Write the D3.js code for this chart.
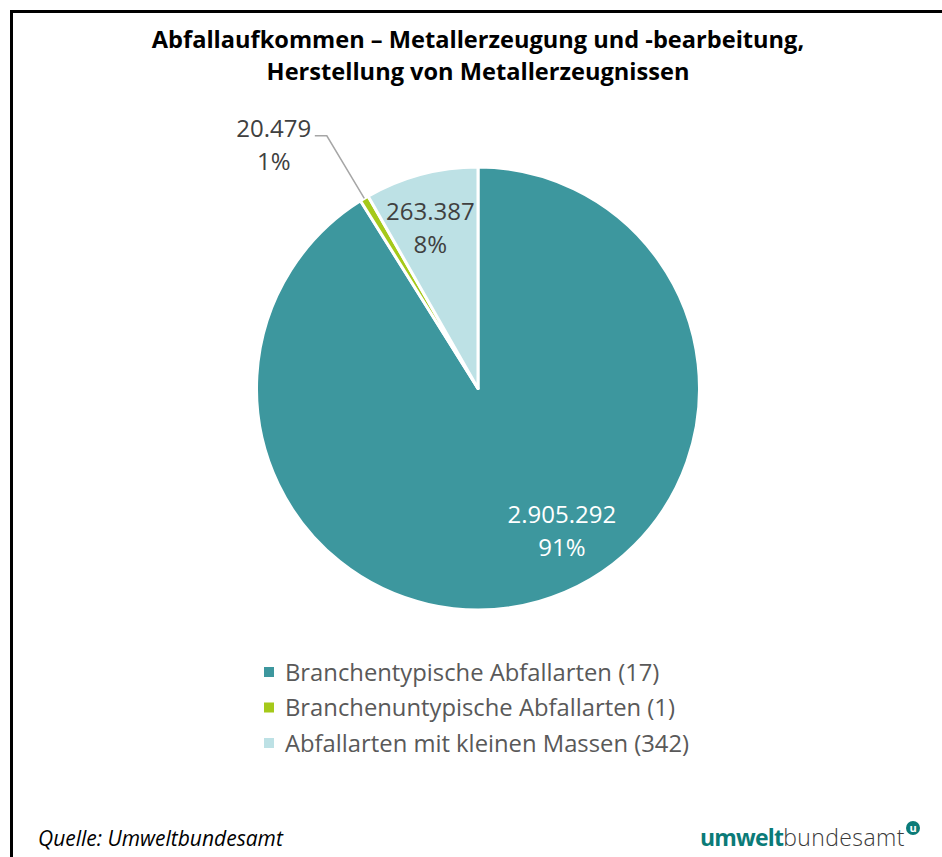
<!DOCTYPE html>
<html>
<head>
<meta charset="utf-8">
<script src="https://cdn.jsdelivr.net/npm/d3@7"></script>
<style>
  html, body { margin: 0; padding: 0; background: #fff; }
  svg { display: block; font-family: "Open Sans", sans-serif; }
</style>
</head>
<body>
<svg id="chart" width="942" height="857"></svg>
<script>
  // chart data
  const categories = [
    'Branchentypische Abfallarten (17)',
    'Branchenuntypische Abfallarten (1)',
    'Abfallarten mit kleinen Massen (342)'
  ];
  const values = [2905292, 20479, 263387];
  const colors = ['#3d979e', '#a5c91a', '#bde1e5'];
  const titleLines = [
    'Abfallaufkommen – Metallerzeugung und -bearbeitung,',
    'Herstellung von Metallerzeugnissen'
  ];

  const width = 942;
  const height = 857;
  const cx = 478;
  const cy = 388.5;
  const radius = 221.5;

  const de = d3.formatLocale({ decimal: ',', thousands: '.', grouping: [3], currency: ['', ' €'] });
  const fmtNum = de.format(',d');
  const fmtPct = d3.format('.0%');

  const svg = d3.select('#chart');

  // frame (top + left only)
  svg.append('path')
    .attr('d', `M11.5,${height} V11.5 H${width}`)
    .attr('fill', 'none')
    .attr('stroke', '#000')
    .attr('stroke-width', 3);

  // title
  svg.append('text')
    .attr('x', cx)
    .attr('text-anchor', 'middle')
    .attr('font-weight', 700)
    .attr('font-size', 23.6)
    .attr('fill', '#000')
    .selectAll('tspan')
    .data(titleLines)
    .join('tspan')
    .attr('x', cx)
    .attr('y', (d, i) => 48 + i * 32)
    .text(d => d);

  const data = categories.map((c, i) => ({ category: c, value: values[i], color: colors[i] }));
  const total = d3.sum(values);

  const pie = d3.pie().value(d => d.value).sort(null);
  const arc = d3.arc().innerRadius(0).outerRadius(radius);
  const labelArc = d3.arc().innerRadius(radius * 0.75).outerRadius(radius * 0.75);
  const arcs = pie(data);

  const g = svg.append('g').attr('transform', `translate(${cx},${cy})`);

  g.selectAll('path.slice')
    .data(arcs)
    .join('path')
    .attr('class', 'slice')
    .attr('d', arc)
    .attr('fill', d => d.data.color)
    .attr('stroke', '#fff')
    .attr('stroke-width', 3)
    .attr('stroke-linejoin', 'round');

  // label placement: inside for big slices, outside with leader for tiny ones
  const labelShift = [[38, -17], null, [-5, 0]];
  const labelFill = ['#fff', '#404040', '#404040'];

  arcs.forEach((d, i) => {
    const share = d.value / total;
    let x, y;
    if (share > 0.05) {
      [x, y] = labelArc.centroid(d);
      x += labelShift[i][0];
      y += labelShift[i][1];
    } else {
      const mid = (d.startAngle + d.endAngle) / 2;
      const ex = Math.sin(mid) * radius;
      const ey = -Math.cos(mid) * radius;
      const kx = Math.sin(mid) * (radius + 73);
      const ky = -Math.cos(mid) * (radius + 73);
      g.append('polyline')
        .attr('points', [[ex, ey], [kx, ky], [kx - 12, ky]].map(p => p.join(',')).join(' '))
        .attr('fill', 'none')
        .attr('stroke', '#a6a6a6')
        .attr('stroke-width', 1.5);
      x = kx - 53;
      y = ky + 9;
    }
    const t = g.append('text')
      .attr('text-anchor', 'middle')
      .attr('font-size', 24)
      .attr('fill', labelFill[i]);
    t.append('tspan').attr('x', x).attr('y', y - 8).text(fmtNum(d.value));
    t.append('tspan').attr('x', x).attr('y', y + 25).text(fmtPct(share));
  });

  // legend
  const legend = svg.append('g').attr('transform', 'translate(264,672)');
  const rows = legend.selectAll('g')
    .data(data)
    .join('g')
    .attr('transform', (d, i) => `translate(0,${i * 35.5})`);
  rows.append('rect')
    .attr('x', 0).attr('y', -5)
    .attr('width', 10).attr('height', 10)
    .attr('fill', d => d.color);
  rows.append('text')
    .attr('x', 21)
    .attr('y', 8.5)
    .attr('font-size', 23.8)
    .attr('fill', '#595959')
    .text(d => d.category);

  // source
  svg.append('text')
    .attr('x', 38)
    .attr('y', 846)
    .attr('font-size', 21)
    .attr('font-style', 'italic')
    .attr('fill', '#000')
    .text('Quelle: Umweltbundesamt');

  // logo
  const logo = svg.append('text')
    .attr('x', 700)
    .attr('y', 846)
    .attr('font-size', 23);
  logo.append('tspan').attr('font-weight', 700).attr('fill', '#0b7b78').attr('letter-spacing', -0.8).text('umwelt');
  logo.append('tspan').attr('font-weight', 300).attr('fill', '#3a3a3a').attr('letter-spacing', 0.4).text('bundesamt');
  svg.append('circle').attr('cx', 913).attr('cy', 828).attr('r', 7).attr('fill', '#0b7b78');
  svg.append('text')
    .attr('x', 913).attr('y', 832)
    .attr('text-anchor', 'middle')
    .attr('font-size', 11)
    .attr('font-weight', 700)
    .attr('fill', '#fff')
    .text('u');
</script>
</body>
</html>
